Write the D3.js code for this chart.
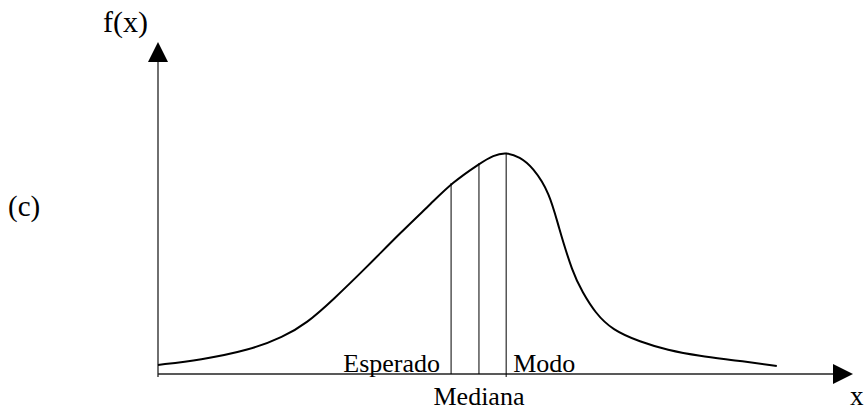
<!DOCTYPE html>
<html>
<head>
<meta charset="utf-8">
<script src="https://d3js.org/d3.v7.min.js"></script>
<style>
    body {
        margin: 0;
        background: #ffffff;
    }
    text {
        font-family: "Liberation Serif", "Times New Roman", serif;
        fill: #000000;
    }
</style>
</head>
<body>
<script>

// Density curve (x in arbitrary units, f(x) peak ~ 1)
var curveX = [0, 0.62, 1.35, 1.84, 2.19, 2.57, 3.07, 3.56, 4.04, 4.32, 4.74, 4.93,
              5.12, 5.32, 5.51, 5.76, 5.89, 6.10, 6.24, 6.43, 6.68, 7.09, 7.49, 7.97, 8.46, 9.10];
var curveY = [0.041, 0.063, 0.108, 0.167, 0.230, 0.334, 0.483, 0.637, 0.777, 0.863, 0.953, 0.988,
              1.002, 0.980, 0.935, 0.818, 0.664, 0.456, 0.371, 0.276, 0.199, 0.145, 0.108, 0.081, 0.063, 0.036];

// Central measures: expected value, median and mode
var measureNames = ["Esperado", "Mediana", "Modo"];
var measureX = [4.31, 4.72, 5.12];
var measureY = [0.863, 0.953, 0.999];

window.onload = function() {
    drawChart();
};

function drawChart() {
    /*
     * Draws the skewed density sketch with its axes and labels
     */

    var svgWidth = 864;
    var svgHeight = 410;

    var padding = {
        top: 42,
        bottom: 36,
        left: 158
    };

    var arrowSize = 20;
    var axisEnd = 833;

    const svg = d3.select("body").append("svg")
        .attr("width", svgWidth)
        .attr("height", svgHeight);

    // Scaling function for x values
    const xScale = d3.scaleLinear()
        .domain([0, 10])
        .range([padding.left, padding.left + 680]);

    // Scaling function for y values
    const yScale = d3.scaleLinear()
        .domain([0, 1.5])
        .range([svgHeight - padding.bottom, padding.top]);

    var x0 = xScale(0);
    var y0 = yScale(0);

    // Draw y-axis line and arrow head
    svg.append("line")
        .attr("x1", x0)
        .attr("x2", x0)
        .attr("y1", y0 + 3)
        .attr("y2", padding.top + arrowSize)
        .attr("stroke", "#222")
        .attr("stroke-width", 1.3);

    svg.append("path")
        .attr("d", `M${x0},${padding.top} L${x0 - 10},${padding.top + arrowSize} L${x0 + 10},${padding.top + arrowSize} Z`)
        .attr("fill", "#000");

    // Draw x-axis line and arrow head
    svg.append("line")
        .attr("x1", x0)
        .attr("x2", axisEnd)
        .attr("y1", y0)
        .attr("y2", y0)
        .attr("stroke", "#222")
        .attr("stroke-width", 1.3);

    svg.append("path")
        .attr("d", `M${axisEnd + arrowSize},${y0} L${axisEnd},${y0 - 10} L${axisEnd},${y0 + 10} Z`)
        .attr("fill", "#000");

    // Axis labels
    svg.append("text")
        .attr("x", 103)
        .attr("y", 32)
        .attr("font-size", 30)
        .text("f(x)");

    svg.append("text")
        .attr("x", 850)
        .attr("y", 405)
        .attr("font-size", 27)
        .text("x");

    // Panel tag
    svg.append("text")
        .attr("x", 8)
        .attr("y", 216)
        .attr("font-size", 29)
        .text("(c)");

    // Vertical lines at the central measures
    svg.selectAll(".measure")
        .data(measureX)
        .enter()
        .append("line")
        .attr("class", "measure")
        .attr("x1", function(d) { return xScale(d); })
        .attr("x2", function(d) { return xScale(d); })
        .attr("y1", function(d, i) { return i == 2 ? y0 + 3 : y0; })
        .attr("y2", function(d, i) { return yScale(measureY[i]); })
        .attr("stroke", "#000")
        .attr("stroke-width", 1);

    // Density curve
    var points = curveX.map(function(d, i) { return [d, curveY[i]]; });
    var line = d3.line()
        .x(function(d) { return xScale(d[0]); })
        .y(function(d) { return yScale(d[1]); })
        .curve(d3.curveBasis);

    svg.append("path")
        .datum(points)
        .attr("d", line)
        .attr("fill", "none")
        .attr("stroke", "#000")
        .attr("stroke-width", 2);

    // Labels for the measures
    svg.append("text")
        .attr("x", xScale(measureX[0]) - 11)
        .attr("y", y0 - 2)
        .attr("text-anchor", "end")
        .attr("font-size", 26)
        .text(measureNames[0]);

    svg.append("text")
        .attr("x", xScale(measureX[1]))
        .attr("y", y0 + 31)
        .attr("text-anchor", "middle")
        .attr("font-size", 26)
        .text(measureNames[1]);

    svg.append("text")
        .attr("x", xScale(measureX[2]) + 7)
        .attr("y", y0 - 2)
        .attr("font-size", 26)
        .text(measureNames[2]);
};

</script>
</body>
</html>
